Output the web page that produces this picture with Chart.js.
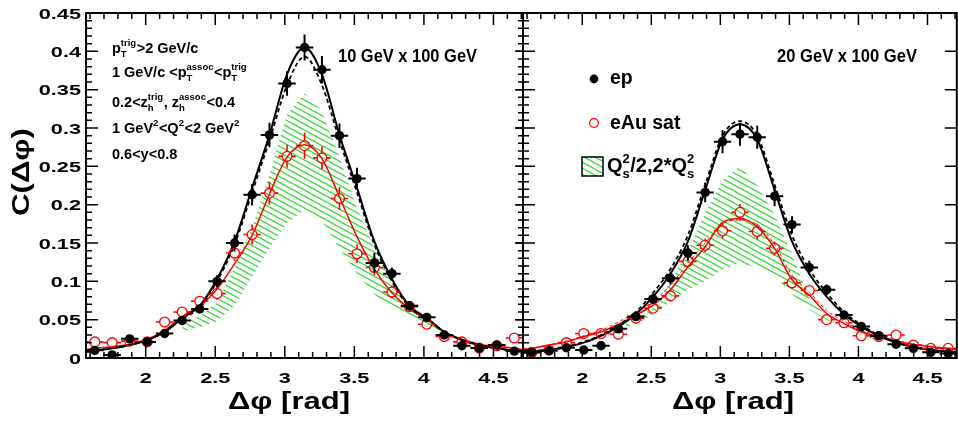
<!DOCTYPE html>
<html><head><meta charset="utf-8">
<script src="https://cdn.jsdelivr.net/npm/chart.js@4/dist/chart.umd.min.js"></script>
<style>
html,body{margin:0;padding:0;background:#fff;overflow:hidden;width:958px;height:424px;position:relative;}
canvas{position:absolute;top:0;}
#c1{left:0}
#c2{left:516px}
</style></head><body>
<canvas id="c1" width="530" height="424"></canvas>
<canvas id="c2" width="447" height="424"></canvas>
<script>
// ---------- data ----------
const BIN_X = [1.634,1.759,1.885,2.011,2.136,2.262,2.388,2.513,2.639,2.765,2.890,3.016,3.142,3.267,3.393,3.519,3.644,3.770,3.896,4.021,4.147,4.273,4.398,4.524,4.650];
const BIN_HALF = 0.0628;
const CURVE_X = [1.571,1.634,1.759,1.885,2.011,2.136,2.262,2.388,2.513,2.639,2.765,2.890,3.016,3.142,3.267,3.393,3.519,3.644,3.770,3.896,4.021,4.147,4.273,4.398,4.524,4.650,4.712];

// 10 GeV x 100 GeV
const EP_10 = [0.010,0.004,0.025,0.021,0.032,0.049,0.064,0.100,0.150,0.213,0.291,0.358,0.405,0.376,0.290,0.234,0.124,0.110,0.068,0.053,0.030,0.016,0.013,0.017,0.009];
const EP_10_ERR = [0.004,0.004,0.004,0.004,0.004,0.005,0.005,0.008,0.011,0.014,0.016,0.016,0.017,0.018,0.016,0.014,0.013,0.008,0.006,0.005,0.004,0.004,0.004,0.004,0.004];
const EAU_10 = [0.021,0.020,0.022,0.021,0.047,0.060,0.074,0.084,0.137,0.161,0.215,0.263,0.277,0.261,0.208,0.136,0.118,0.086,0.067,0.044,0.028,0.021,0.013,0.016,0.026];
const EAU_10_ERR = [0.004,0.004,0.004,0.004,0.005,0.006,0.006,0.008,0.010,0.013,0.015,0.015,0.017,0.015,0.015,0.012,0.010,0.008,0.006,0.005,0.004,0.004,0.004,0.004,0.004];
const FIT_EP_10 = [0.008,0.0095,0.0126,0.017,0.0235,0.034,0.052,0.068,0.103,0.152,0.222,0.291,0.370,0.405,0.370,0.291,0.222,0.152,0.103,0.068,0.052,0.034,0.0235,0.017,0.0126,0.0095,0.008];
const FIT_EP_10_ALT = [0.008,0.0095,0.0126,0.017,0.0235,0.034,0.051,0.066,0.100,0.148,0.216,0.284,0.356,0.393,0.356,0.284,0.216,0.148,0.100,0.066,0.051,0.034,0.0235,0.017,0.0126,0.0095,0.008];
const FIT_EAU_10 = [0.011,0.0126,0.0148,0.018,0.0244,0.036,0.054,0.068,0.090,0.123,0.160,0.214,0.262,0.278,0.260,0.210,0.158,0.116,0.085,0.064,0.050,0.034,0.0244,0.018,0.015,0.0126,0.011];
const BAND_X_10 = [2.262,2.388,2.513,2.639,2.765,2.890,3.016,3.142,3.267,3.393,3.519,3.644,3.770,3.896,4.021,4.147];
const BAND_HI_10 = [0.045,0.055,0.072,0.118,0.170,0.240,0.318,0.345,0.322,0.262,0.195,0.143,0.098,0.068,0.050,0.038];
const BAND_LO_10 = [0.035,0.040,0.048,0.068,0.106,0.143,0.176,0.193,0.178,0.143,0.110,0.083,0.064,0.052,0.042,0.034];

// 20 GeV x 100 GeV
const EP_20 = [0.0074,0.0095,0.0134,0.0104,0.016,0.038,0.054,0.077,0.104,0.137,0.216,0.282,0.292,0.288,0.211,0.174,0.118,0.089,0.056,0.041,0.029,0.018,0.0126,0.0074,0.006];
const EP_20_ERR = [0.003,0.003,0.003,0.004,0.004,0.004,0.005,0.006,0.008,0.010,0.013,0.015,0.015,0.015,0.013,0.011,0.009,0.007,0.005,0.004,0.004,0.003,0.003,0.003,0.003];
const EAU_20 = [0.007,0.0104,0.020,0.032,0.032,0.031,0.052,0.065,0.081,0.126,0.147,0.166,0.190,0.165,0.143,0.098,0.088,0.050,0.046,0.029,0.028,0.030,0.017,0.0126,0.0126];
const EAU_20_ERR = [0.003,0.003,0.003,0.004,0.004,0.004,0.005,0.006,0.007,0.008,0.009,0.010,0.011,0.010,0.009,0.008,0.007,0.006,0.005,0.004,0.004,0.004,0.003,0.003,0.003];
const FIT_EP_20 = [0.007,0.008,0.0105,0.014,0.020,0.029,0.041,0.057,0.080,0.110,0.152,0.219,0.285,0.305,0.285,0.219,0.152,0.110,0.080,0.057,0.041,0.029,0.020,0.014,0.0105,0.008,0.007];
const FIT_EP_20_ALT = [0.008,0.009,0.011,0.015,0.021,0.030,0.043,0.060,0.085,0.116,0.160,0.226,0.290,0.309,0.290,0.226,0.160,0.116,0.085,0.060,0.043,0.030,0.021,0.015,0.011,0.009,0.008];
const FIT_EAU_20 = [0.011,0.0126,0.017,0.021,0.028,0.034,0.044,0.056,0.069,0.089,0.119,0.145,0.177,0.182,0.171,0.143,0.102,0.082,0.058,0.045,0.034,0.028,0.0226,0.018,0.0148,0.0126,0.011];
const FIT_EAU_20_ALT = [0.012,0.013,0.017,0.022,0.029,0.036,0.047,0.060,0.074,0.095,0.124,0.150,0.175,0.180,0.174,0.148,0.108,0.086,0.062,0.048,0.036,0.029,0.023,0.018,0.015,0.013,0.012];
const BAND_X_20 = [2.136,2.262,2.388,2.513,2.639,2.765,2.890,3.016,3.142,3.267,3.393,3.519,3.644,3.770,3.896,4.021,4.147];
const BAND_HI_20 = [0.032,0.040,0.050,0.066,0.100,0.140,0.189,0.232,0.250,0.225,0.187,0.135,0.078,0.055,0.041,0.031,0.024];
const BAND_LO_20 = [0.030,0.036,0.044,0.057,0.073,0.089,0.100,0.115,0.124,0.118,0.108,0.083,0.063,0.050,0.040,0.030,0.022];

// axis ticks
const X_TICKS = [2,2.5,3,3.5,4,4.5];
const X_TICK_LABELS = ['2','2.5','3','3.5','4','4.5'];
const Y_TICKS = [0,0.05,0.1,0.15,0.2,0.25,0.3,0.35,0.4,0.45];
const Y_TICK_LABELS = ['0','0.05','0.1','0.15','0.2','0.25','0.3','0.35','0.4','0.45'];
const X_MIN = 1.5708, X_MAX = 4.7124, Y_MIN = 0, Y_MAX = 0.45;

// ---------- helpers ----------
const FONT = '"Liberation Sans", Arial, Helvetica, sans-serif';
const GREEN = 'rgb(45,215,45)';
function pts(xs, ys){ return xs.map((x,i)=>({x:x, y:ys[i]})); }
function hatchPattern(ctx){
  const c = document.createElement('canvas'); c.width = 11; c.height = 6;
  const g = c.getContext('2d');
  g.strokeStyle = GREEN; g.lineWidth = 1.1;
  for (const dy of [-6,0,6]) { g.beginPath(); g.moveTo(-1, dy - 6/11); g.lineTo(12, dy + 6 + 6/11); g.stroke(); }
  return ctx.createPattern(c, 'repeat');
}
function txt(ctx, s, x, y, size, align, sx, targetW){
  ctx.save();
  ctx.font = 'bold ' + size + 'px ' + FONT;
  const mw = ctx.measureText(s).width;
  const k = targetW ? targetW / mw : (sx || 1);
  const tw = mw * k;
  const x0 = align === 'center' ? x - tw/2 : (align === 'right' ? x - tw : x);
  ctx.translate(x0, y); ctx.scale(k, 1);
  ctx.textAlign = 'left'; ctx.textBaseline = 'alphabetic'; ctx.fillStyle = '#000';
  ctx.fillText(s, 0, 0);
  ctx.restore();
}
function rich(ctx, parts, x, y, size, ssize){
  ctx.save(); ctx.fillStyle = '#000'; ctx.textBaseline = 'alphabetic'; ctx.textAlign = 'left';
  let cx = x;
  for (const p of parts) {
    if (typeof p === 'string') {
      ctx.font = 'bold ' + size + 'px ' + FONT;
      ctx.fillText(p, cx, y); cx += ctx.measureText(p).width;
    } else {
      ctx.font = 'bold ' + ssize + 'px ' + FONT;
      let w = 0;
      if (p.sup) { ctx.fillText(p.sup, cx, y - size*0.45); w = Math.max(w, ctx.measureText(p.sup).width); }
      if (p.sub) { ctx.fillText(p.sub, cx, y + size*0.3); w = Math.max(w, ctx.measureText(p.sub).width); }
      cx += w + 0.5;
    }
  }
  ctx.restore();
}

const errPlugin = {
  id: 'errbars',
  beforeDatasetDraw(chart, args) {
    const ds = chart.data.datasets[args.index];
    if (!ds.yErr) return;
    const ctx = chart.ctx, xs = chart.scales.x, ys = chart.scales.y, a = chart.chartArea;
    ctx.save();
    ctx.beginPath(); ctx.rect(a.left, a.top, a.right - a.left, a.bottom - a.top); ctx.clip();
    ctx.strokeStyle = ds.barColor; ctx.lineWidth = ds.barWidth; ctx.setLineDash([]);
    const g = ds.barGap;
    ds.data.forEach((p, i) => {
      const px = xs.getPixelForValue(p.x), py = ys.getPixelForValue(p.y);
      const x1 = xs.getPixelForValue(p.x - BIN_HALF), x2 = xs.getPixelForValue(p.x + BIN_HALF);
      const y1 = ys.getPixelForValue(p.y + ds.yErr[i]), y2 = ys.getPixelForValue(p.y - ds.yErr[i]);
      ctx.beginPath();
      ctx.moveTo(x1, py); ctx.lineTo(px - g, py);
      ctx.moveTo(px + g, py); ctx.lineTo(x2, py);
      if (py - y1 > g) { ctx.moveTo(px, y1); ctx.lineTo(px, py - g); }
      if (y2 - py > g) { ctx.moveTo(px, py + g); ctx.lineTo(px, y2); }
      ctx.stroke();
    });
    ctx.restore();
  }
};

function framePlugin(cfg) {
  return {
    id: 'frame',
    afterDraw(chart) {
      const ctx = chart.ctx, a = chart.chartArea, xs = chart.scales.x, ys = chart.scales.y;
      ctx.save();
      ctx.strokeStyle = '#000'; ctx.lineWidth = 1.5; ctx.setLineDash([]);
      ctx.beginPath();
      for (let k = 16; k <= 47; k++) {
        const px = xs.getPixelForValue(k/10);
        const len = (k % 5 === 0) ? 12 : 6;
        ctx.moveTo(px, a.bottom); ctx.lineTo(px, a.bottom - len);
        ctx.moveTo(px, a.top); ctx.lineTo(px, a.top + len);
      }
      for (let k = 1; k < 45; k++) {
        const py = ys.getPixelForValue(k/100);
        const major = k % 5 === 0;
        if (cfg.leftBoth) {
          ctx.moveTo(a.left - (major ? 10 : 5), py); ctx.lineTo(a.left + (major ? 12 : 6), py);
        } else {
          ctx.moveTo(a.left, py); ctx.lineTo(a.left + (major ? 12 : 6), py);
        }
        if (major) { ctx.moveTo(a.right, py); ctx.lineTo(a.right - cfg.rightLen, py); }
      }
      ctx.stroke();
      ctx.lineWidth = 2;
      ctx.strokeRect(a.left, a.top, a.right - a.left, a.bottom - a.top);
      ctx.restore();
      // tick labels
      X_TICKS.forEach((v, i) => txt(ctx, X_TICK_LABELS[i], xs.getPixelForValue(v), 383, 15.5, 'center', 1.4));
      if (cfg.yLabels) Y_TICKS.forEach((v, i) => txt(ctx, Y_TICK_LABELS[i], a.left - 5, ys.getPixelForValue(v) + 5.5, 15.5, 'right', 1.4));
      // axis title
      txt(ctx, 'Δφ [rad]', cfg.xTitleX, 409, 23, 'center', 0, 122);
      cfg.extra(ctx, chart);
    }
  };
}

function makeChart(id, cfg) {
  const el = document.getElementById(id);
  const ctx = el.getContext('2d');
  const pat = hatchPattern(ctx);
  const datasets = [
    { label: 'ep', data: pts(BIN_X, cfg.ep), yErr: cfg.epErr, barColor: '#000', barWidth: 2, barGap: 0,
      pointRadius: 4.7, pointBackgroundColor: '#000', pointBorderColor: '#000', pointBorderWidth: 0, showLine: false },
    { label: 'eAu sat', data: pts(BIN_X, cfg.eau), yErr: cfg.eauErr, barColor: '#f00', barWidth: 1.6, barGap: 4.9,
      pointRadius: 4.9, pointBackgroundColor: 'rgba(0,0,0,0)', pointBorderColor: '#f00', pointBorderWidth: 1.3, showLine: false },
    { label: 'fit ep', data: pts(CURVE_X, cfg.fitEp), showLine: true, pointRadius: 0, borderColor: '#000', borderWidth: 2,
      cubicInterpolationMode: 'monotone', fill: false },
    { label: 'fit ep alt', data: pts(CURVE_X, cfg.fitEpAlt), showLine: true, pointRadius: 0, borderColor: '#000', borderWidth: 1.8,
      borderDash: [4, 3], cubicInterpolationMode: 'monotone', fill: false },
    { label: 'fit eAu', data: pts(CURVE_X, cfg.fitEau), showLine: true, pointRadius: 0, borderColor: '#f00', borderWidth: 1.5,
      cubicInterpolationMode: 'monotone', fill: false }
  ];
  if (cfg.fitEauAlt) datasets.push({ label: 'fit eAu alt', data: pts(CURVE_X, cfg.fitEauAlt), showLine: true, pointRadius: 0,
      borderColor: '#f00', borderWidth: 1, borderDash: [3, 3], cubicInterpolationMode: 'monotone', fill: false });
  datasets.push({ label: 'band hi', data: pts(cfg.bandX, cfg.bandHi), showLine: true, pointRadius: 0,
      borderColor: 'rgba(0,0,0,0)', borderWidth: 0.01, backgroundColor: pat, fill: '+1' });
  datasets.push({ label: 'band lo', data: pts(cfg.bandX, cfg.bandLo), showLine: true, pointRadius: 0,
      borderColor: 'rgba(0,0,0,0)', borderWidth: 0.01, fill: false });
  return new Chart(ctx, {
    type: 'scatter',
    data: { datasets },
    options: {
      responsive: false, animation: false, devicePixelRatio: 1, events: [],
      layout: { padding: cfg.padding },
      plugins: { legend: { display: false }, tooltip: { enabled: false }, title: { display: false } },
      scales: {
        x: { type: 'linear', min: X_MIN, max: X_MAX, display: false },
        y: { type: 'linear', min: Y_MIN, max: Y_MAX, display: false }
      }
    },
    plugins: [errPlugin, framePlugin(cfg.frame)]
  });
}

makeChart('c1', {
  ep: EP_10, epErr: EP_10_ERR, eau: EAU_10, eauErr: EAU_10_ERR,
  fitEp: FIT_EP_10, fitEpAlt: FIT_EP_10_ALT, fitEau: FIT_EAU_10,
  bandX: BAND_X_10, bandHi: BAND_HI_10, bandLo: BAND_LO_10,
  padding: { left: 86, right: 7, top: 13, bottom: 66 },
  frame: {
    leftBoth: false, rightLen: 8, yLabels: true, xTitleX: 289,
    extra(ctx) {
      // y title
      ctx.save(); ctx.translate(29, 172); ctx.rotate(-Math.PI/2);
      txt(ctx, 'C(Δφ)', 0, 0, 23, 'center', 0, 88);
      ctx.restore();
      rich(ctx, ['p', {sub:'T', sup:'trig'}, '>2 GeV/c'], 112, 53, 14.5, 9.5);
      rich(ctx, ['1 GeV/c <p', {sub:'T', sup:'assoc'}, '<p', {sub:'T', sup:'trig'}], 112, 77, 14.5, 9.5);
      rich(ctx, ['0.2<z', {sub:'h', sup:'trig'}, ', z', {sub:'h', sup:'assoc'}, '<0.4'], 112, 107, 14.5, 9.5);
      rich(ctx, ['1 GeV', {sup:'2'}, '<Q', {sup:'2'}, '<2 GeV', {sup:'2'}], 112, 133, 14.5, 9.5);
      rich(ctx, ['0.6<y<0.8'], 112, 159, 14.5, 9.5);
      txt(ctx, '10 GeV x 100 GeV', 338, 62, 18, 'left', 0, 139);
    }
  }
});

makeChart('c2', {
  ep: EP_20, epErr: EP_20_ERR, eau: EAU_20, eauErr: EAU_20_ERR,
  fitEp: FIT_EP_20, fitEpAlt: FIT_EP_20_ALT, fitEau: FIT_EAU_20, fitEauAlt: FIT_EAU_20_ALT,
  bandX: BAND_X_20, bandHi: BAND_HI_20, bandLo: BAND_LO_20,
  padding: { left: 7, right: 2, top: 13, bottom: 66 },
  frame: {
    leftBoth: true, rightLen: 12, yLabels: false, xTitleX: 733 - 516,
    extra(ctx, chart) {
      const ox = 516;
      txt(ctx, '20 GeV x 100 GeV', 777 - ox, 62, 18, 'left', 0, 140);
      // legend
      ctx.save();
      ctx.fillStyle = '#000'; ctx.beginPath(); ctx.arc(594 - ox, 79, 4.4, 0, Math.PI*2); ctx.fill();
      ctx.strokeStyle = '#f00'; ctx.lineWidth = 1.2; ctx.beginPath(); ctx.arc(594 - ox, 123, 4.4, 0, Math.PI*2); ctx.stroke();
      ctx.fillStyle = hatchPattern(ctx); ctx.fillRect(582 - ox, 157, 21, 19);
      ctx.strokeStyle = '#000'; ctx.lineWidth = 1.5; ctx.strokeRect(582 - ox, 157, 21, 19);
      ctx.restore();
      rich(ctx, ['ep'], 610 - ox, 83.5, 19.5, 12);
      rich(ctx, ['eAu sat'], 610 - ox, 129, 19.5, 12);
      rich(ctx, ['Q', {sub:'s', sup:'2'}, '/2,2*Q', {sub:'s', sup:'2'}], 607 - ox, 172, 20, 13);
    }
  }
});
</script>
</body></html>
